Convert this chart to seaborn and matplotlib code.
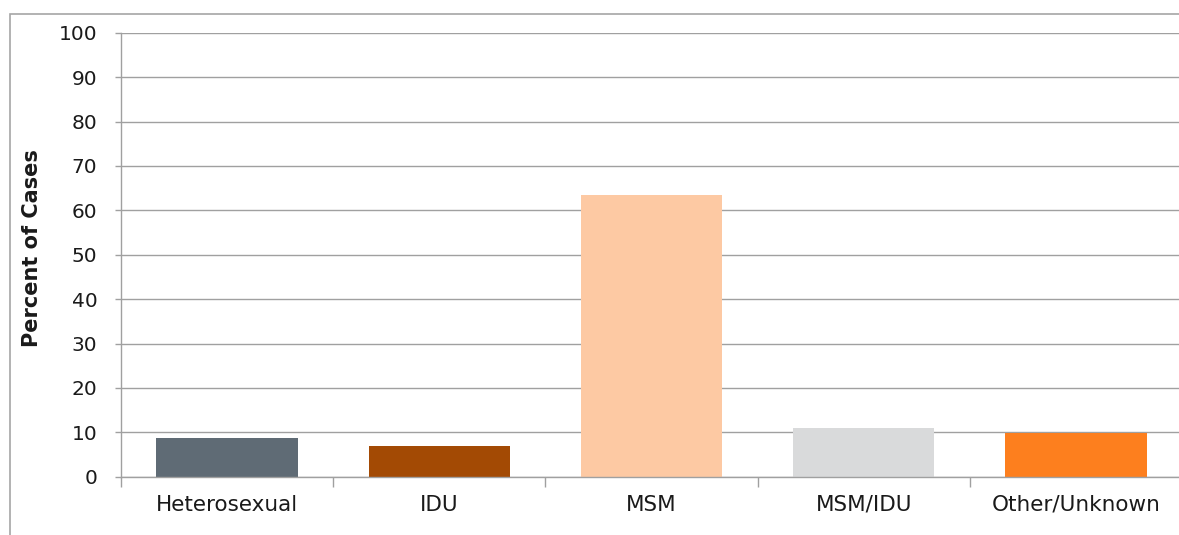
import matplotlib
matplotlib.use("Agg")
import matplotlib.pyplot as plt
import matplotlib.patheffects as pe
from matplotlib.patches import Rectangle
import seaborn as sns
import pandas as pd

categories = ["Heterosexual", "IDU", "MSM", "MSM/IDU", "Other/Unknown"]
percent = [8.7, 7.0, 63.4, 10.9, 9.9]
colors = ["#5f6b75", "#a34a04", "#fdc9a3", "#d9dadb", "#fd7f1e"]
yticks = [0, 10, 20, 30, 40, 50, 60, 70, 80, 90, 100]
ylabel = "Percent of Cases"

sns.set_theme(style="white")
plt.rcParams['font.family'] = ['DejaVu Sans']

W, H = 1179, 535
fig = plt.figure(figsize=(W / 100, H / 100), dpi=100)
fig.patch.set_facecolor("white")

# outer frame
fig.patches.append(Rectangle((10 / W, -0.05), 1.05, (H - 14) / H + 0.05,
                             transform=fig.transFigure, fill=False,
                             edgecolor="#a6a6a6", linewidth=1.2))

ax = fig.add_axes([121 / W, (H - 476.7) / H, (1182 - 121) / W, 444 / H])
df = pd.DataFrame({"cat": categories, "val": percent})
sns.barplot(data=df, x="cat", y="val", hue="cat", palette=colors,
            width=0.667, legend=False, ax=ax, saturation=1)

for p in ax.patches:
    p.set_path_effects([pe.SimplePatchShadow(offset=(0, 0), shadow_rgbFace="#000000", alpha=0.12, rho=0.9),
                        pe.Normal()])
    p.set_linewidth(0)

ax.set_ylim(0, 100)
ax.set_xlim(-0.5, len(categories) - 0.5)
ax.set_yticks(yticks)
ax.set_yticklabels([str(v) for v in yticks])
ax.yaxis.grid(True, color="#a0a0a0", linewidth=1.0)
ax.set_axisbelow(True)

# category boundary ticks (major) and labels (minor)
ax.set_xticks([i - 0.5 for i in range(len(categories) + 1)])
ax.set_xticklabels([])
ax.set_xticks(list(range(len(categories))), minor=True)
ax.set_xticklabels(categories, minor=True)
ax.tick_params(axis="x", which="major", bottom=True, length=7, width=1, color="#a0a0a0")
ax.tick_params(axis="x", which="minor", bottom=False, length=0, pad=13, labelsize=15.5, labelcolor="#1a1a1a")
ax.tick_params(axis="y", left=True, length=4, width=1, color="#a0a0a0", pad=13, labelsize=14.5, labelcolor="#1a1a1a")

for s in ["top", "right"]:
    ax.spines[s].set_visible(False)
for s in ["left", "bottom"]:
    ax.spines[s].set_color("#a0a0a0")
    ax.spines[s].set_linewidth(1.0)

ax.set_xlabel("")
ax.set_ylabel(ylabel, fontsize=15, fontweight="bold", color="#1a1a1a")
ax.yaxis.set_label_coords(-79 / (1182 - 121), 0.515)

fig.savefig("out.png", dpi=100, facecolor="white")
